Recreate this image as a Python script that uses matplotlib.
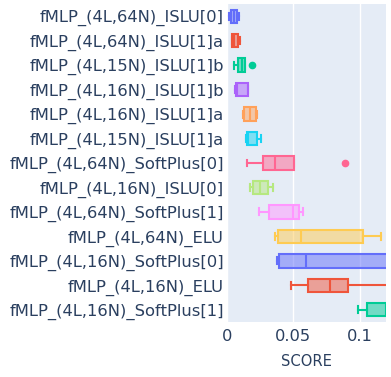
import numpy as np
import matplotlib
matplotlib.use("Agg")
import matplotlib.pyplot as plt

# =========================
# 1. Data
# =========================
models = [
    "fMLP_(4L,64N)_ISLU[0]",
    "fMLP_(4L,64N)_ISLU[1]a",
    "fMLP_(4L,15N)_ISLU[1]b",
    "fMLP_(4L,16N)_ISLU[1]b",
    "fMLP_(4L,16N)_ISLU[1]a",
    "fMLP_(4L,15N)_ISLU[1]a",
    "fMLP_(4L,64N)_SoftPlus[0]",
    "fMLP_(4L,16N)_ISLU[0]",
    "fMLP_(4L,64N)_SoftPlus[1]",
    "fMLP_(4L,64N)_ELU",
    "fMLP_(4L,16N)_SoftPlus[0]",
    "fMLP_(4L,16N)_ELU",
    "fMLP_(4L,16N)_SoftPlus[1]",
]
whislo = [0.0012, 0.0035, 0.0055, 0.0060, 0.0120, 0.0145, 0.0150, 0.0173, 0.0243, 0.0360, 0.0376, 0.0480, 0.0987]
q1     = [0.0030, 0.0038, 0.0080, 0.0065, 0.0130, 0.0150, 0.0268, 0.0198, 0.0318, 0.0386, 0.0396, 0.0611, 0.1058]
med    = [0.0050, 0.0050, 0.0110, 0.0075, 0.0170, 0.0160, 0.0360, 0.0250, 0.0500, 0.0560, 0.0594, 0.0780, 0.1200]
q3     = [0.0075, 0.0080, 0.0135, 0.0155, 0.0218, 0.0230, 0.0506, 0.0310, 0.0544, 0.1028, 0.1500, 0.0912, 0.1500]
whishi = [0.0090, 0.0098, 0.0135, 0.0160, 0.0230, 0.0256, 0.0506, 0.0346, 0.0570, 0.1163, 0.2000, 0.1500, 0.1800]
outliers = [[], [], [0.0186], [], [], [], [0.0887], [], [], [], [], [], []]

colors = ["#636EFA", "#EF553B", "#00CC96", "#AB63FA", "#FFA15A", "#19D3F3",
          "#FF6692", "#B6E880", "#FF97FF", "#FECB52", "#636EFA", "#EF553B", "#00CC96"]

# =========================
# 2. Figure
# =========================
fig = plt.figure(figsize=(3.91, 3.77), dpi=100)
ax = fig.add_axes([227 / 391, 1 - 322 / 377, 159 / 391, 318 / 377])
ax.set_facecolor("#E5ECF6")

stats = []
for i in range(len(models)):
    stats.append(dict(whislo=whislo[i], q1=q1[i], med=med[i], q3=q3[i],
                      whishi=whishi[i], fliers=outliers[i]))

pos = np.arange(len(models))
bp = ax.bxp(stats, positions=pos, vert=False, widths=0.55, capwidths=0.28,
            patch_artist=True, showfliers=True)

for i, c in enumerate(colors):
    bp["boxes"][i].set_facecolor(matplotlib.colors.to_rgba(c, 0.5))
    bp["boxes"][i].set_edgecolor(c)
    bp["boxes"][i].set_linewidth(1.5)
    bp["medians"][i].set_color(c)
    bp["medians"][i].set_linewidth(1.5)
    for ln in bp["whiskers"][2 * i:2 * i + 2] + bp["caps"][2 * i:2 * i + 2]:
        ln.set_color(c)
        ln.set_linewidth(1.5)
    fl = bp["fliers"][i]
    fl.set_marker("o")
    fl.set_markersize(4.5)
    fl.set_markerfacecolor(c)
    fl.set_markeredgecolor(c)

# =========================
# 3. Axes styling
# =========================
txt = "#2a3f5f"
ax.set_xlim(0, 0.12)
ax.set_ylim(len(models) - 0.5, -0.5)
ax.set_yticks(pos)
ax.set_yticklabels(models)
ax.set_xticks([0, 0.05, 0.1])
ax.set_xticklabels(["0", "0.05", "0.1"])
ax.tick_params(axis="y", length=0, pad=2.2, labelsize=11.8, labelcolor=txt)
ax.tick_params(axis="x", length=0, pad=5, labelsize=11.7, labelcolor=txt)
ax.grid(axis="x", color="white", linewidth=1)
ax.set_axisbelow(True)
for s in ax.spines.values():
    s.set_visible(False)
ax.set_xlabel("SCORE", fontsize=10.6, color=txt, labelpad=7)

fig.savefig("out.png", dpi=100)
